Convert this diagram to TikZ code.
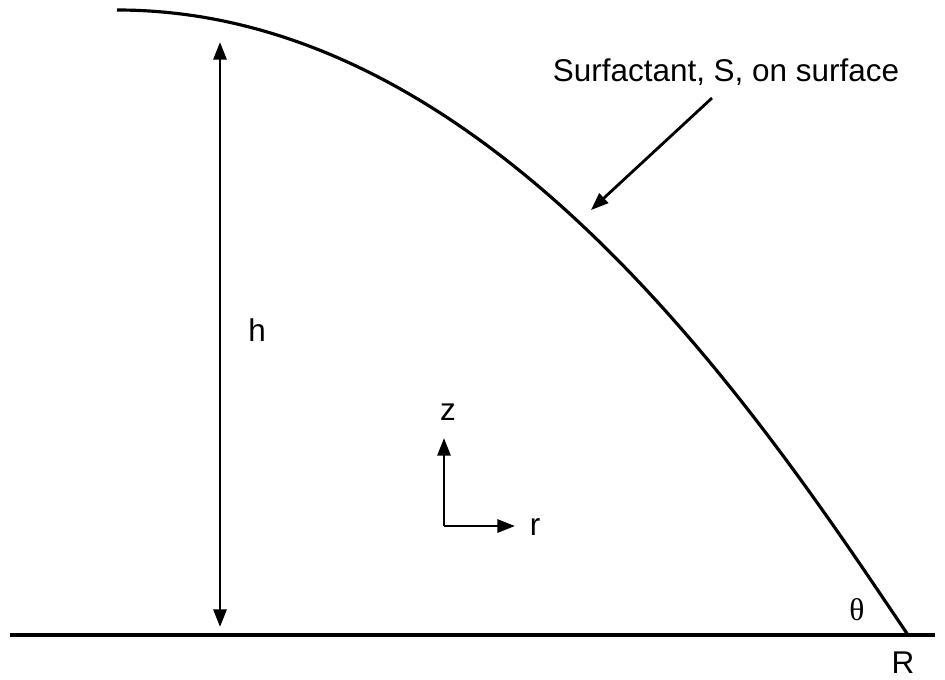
\documentclass[tikz,border=0pt]{standalone}
\usepackage{fontspec}
\setmainfont{Liberation Sans}
\newfontfamily\thetafont{Liberation Serif}
\usetikzlibrary{arrows.meta}
\tikzset{
  lbl/.style={anchor=base,inner sep=0pt,font=\fontsize{17.9}{21}\selectfont},
  arr/.style={line width=1.6pt,-{Triangle[length=10pt,width=7.4pt]}},
  dblarr/.style={line width=1.6pt,{Triangle[length=10pt,width=7.4pt]}-{Triangle[length=10pt,width=7.4pt]}}
}
\begin{document}
\begin{tikzpicture}[x=0.02cm,y=-0.02cm,line cap=butt,line join=round]
  \useasboundingbox (0,0) rectangle (945,679);
  \coordinate (L) at (10,635);
  \coordinate (Rb) at (935,635);
  \coordinate (P) at (117,10);
  \coordinate (Q) at (908,635);
  \coordinate (Ht) at (220,42);
  \coordinate (Hb) at (220,627);
  \coordinate (O) at (444,526);
  \coordinate (Z) at (444,438);
  \coordinate (Rr) at (515,526);
  \coordinate (Sa) at (712,98);
  \coordinate (Sb) at (591,210);

  \draw[line width=2pt] (L) -- (Rb);
  \draw[line width=1.8pt] (P) .. controls (497,10) and (768,428) .. (Q);

  \draw[dblarr] (Hb) -- (Ht);
  \draw[arr] (O) -- (Z);
  \draw[arr] (O) -- (Rr);
  \draw[arr] (Sa) -- (Sb);

  \node[lbl] (surf) at (726,82) {Surfactant, S, on surface};
  \node[lbl] (hlab) at (257,341) {h};
  \node[lbl] (zlab) at (448,420) {z};
  \node[lbl] (rlab) at (535,535) {r};
  \node[lbl] (Rlab) at (903,673) {R};
  \node[lbl,font=\fontsize{17.9}{21}\selectfont\thetafont] (thlab) at (857,620) {θ};
\end{tikzpicture}
\end{document}
